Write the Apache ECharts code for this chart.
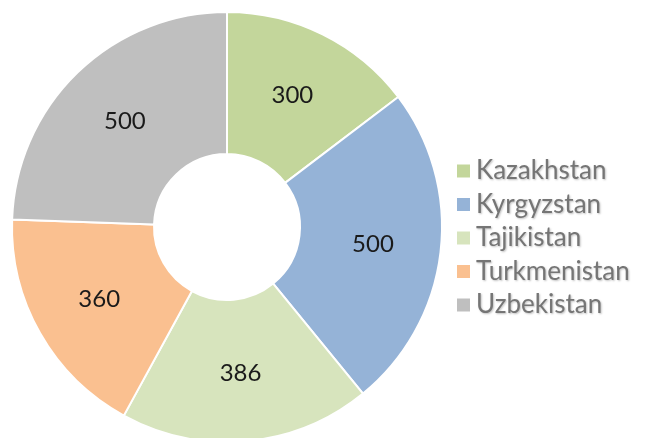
<!DOCTYPE html>
<html>
<head>
<meta charset="utf-8">
<script src="https://cdn.jsdelivr.net/npm/echarts@6/dist/echarts.min.js"></script>
<style>
  html, body { margin: 0; padding: 0; background: #fff; }
  #main { width: 648px; height: 438px; }
</style>
</head>
<body>
<div id="main"></div>
<script>
var countries = ['Kazakhstan', 'Kyrgyzstan', 'Tajikistan', 'Turkmenistan', 'Uzbekistan'];
var values = [300, 500, 386, 360, 500];
var colors = ['#C3D69B', '#95B3D7', '#D7E4BD', '#FAC090', '#BFBFBF'];

var chart = echarts.init(document.getElementById('main'));

var pieData = countries.map(function (name, i) {
  return { name: name, value: values[i], itemStyle: { color: colors[i] } };
});

chart.setOption({
  animation: false,
  legend: {
    orient: 'vertical',
    left: 450,
    top: 153,
    itemWidth: 15,
    itemHeight: 15,
    itemGap: 7.5,
    icon: 'rect',
    textStyle: {
      fontFamily: 'Lato',
      fontSize: 26,
      lineHeight: 26,
      color: '#757575',
      textShadowColor: 'rgba(0,0,0,0.25)',
      textShadowBlur: 2,
      textShadowOffsetX: 1,
      textShadowOffsetY: 1
    },
    data: countries
  },
  series: [{
    type: 'pie',
    center: [227, 227],
    radius: [73, 215],
    startAngle: 90,
    clockwise: true,
    itemStyle: { borderColor: '#fff', borderWidth: 2 },
    label: {
      show: true,
      position: 'inside',
      formatter: '{c}',
      fontFamily: 'Lato',
      fontSize: 24,
      color: '#1a1a1a'
    },
    labelLine: { show: false },
    emphasis: { disabled: true },
    data: pieData
  }]
});
</script>
</body>
</html>
